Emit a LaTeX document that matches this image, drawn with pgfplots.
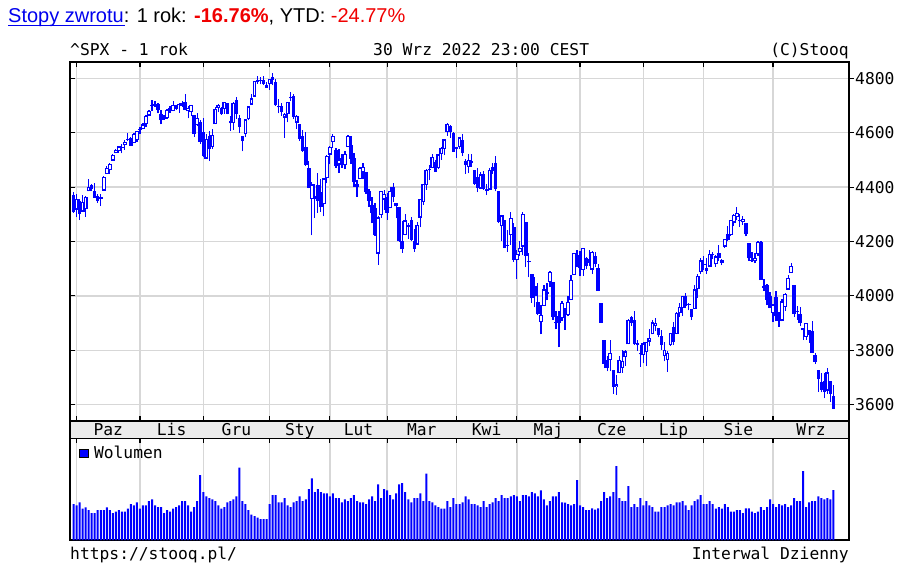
\documentclass[border=0pt]{standalone}
\usepackage{pgfplots}
\pgfplotsset{compat=1.18}
\usepackage{pgfplotstable}
\usepackage{fontspec}
\setmainfont{Liberation Sans}
\newfontfamily\monofont{DejaVu Sans Mono}
\newcommand\mf{\monofont\fontsize{16.3}{19}\selectfont}
\definecolor{gridgray}{RGB}{215,215,215}
\definecolor{stripgray}{RGB}{236,236,236}
\definecolor{linkblue}{RGB}{0,0,238}
\definecolor{cblue}{RGB}{0,0,255}
\definecolor{hred}{RGB}{240,0,0}

% i = trading day index (0 = 1 Oct 2021), O H L C = open high low close, V = volume (relative)
\pgfplotstableread{
i O H L C V
-1 4370.7 4382.6 4306.2 4307.5 36
0 4317.2 4375.2 4288.5 4357.0 34.7
1 4348.8 4355.5 4278.9 4300.5 37.7
2 4309.9 4369.2 4309.9 4345.7 31.3
3 4319.6 4365.6 4290.5 4363.6 32.7
4 4384.0 4429.0 4384.0 4399.8 30
5 4406.5 4412.0 4386.2 4391.3 27
6 4385.4 4415.9 4360.6 4361.2 27
7 4368.3 4374.9 4342.1 4350.7 30
8 4358.0 4372.9 4329.9 4363.8 30
9 4386.8 4439.7 4386.8 4438.3 30
10 4447.7 4475.8 4447.7 4471.4 32.7
11 4463.7 4488.8 4447.5 4486.5 30
12 4497.3 4520.4 4496.4 4519.6 27
13 4524.4 4540.9 4524.4 4536.2 28.3
14 4532.2 4551.4 4526.9 4549.8 30
15 4546.1 4559.7 4524.0 4544.9 28.3
16 4553.7 4572.6 4537.4 4566.5 28.3
17 4578.7 4598.5 4569.2 4574.8 31.3
18 4580.2 4584.6 4551.7 4551.7 36
19 4562.8 4597.6 4562.8 4596.4 34.7
20 4572.9 4608.1 4567.6 4605.4 37.7
21 4610.6 4620.3 4595.1 4613.7 31.3
22 4613.3 4635.2 4613.3 4630.7 34.7
23 4630.7 4663.5 4621.2 4660.6 34.7
24 4662.9 4683.0 4662.6 4680.1 39
25 4699.3 4718.5 4681.3 4697.5 40.7
26 4701.5 4714.9 4694.4 4701.7 34.7
27 4707.3 4708.5 4670.9 4685.3 33
28 4670.3 4684.9 4630.9 4646.7 33
29 4659.4 4664.6 4648.3 4649.3 27
30 4655.2 4688.5 4650.8 4682.9 30
31 4689.3 4697.4 4672.9 4682.8 28.3
32 4679.4 4714.9 4679.4 4700.9 31.3
33 4701.5 4701.5 4684.4 4688.7 33
34 4700.7 4708.8 4672.8 4704.5 34.7
35 4708.4 4717.8 4694.2 4698.0 39
36 4712.0 4743.8 4682.2 4682.9 39
37 4678.5 4699.4 4652.7 4690.7 34.7
38 4675.8 4702.9 4659.9 4701.5 28.3
39 4664.6 4664.6 4585.4 4594.6 33
40 4628.8 4672.9 4625.3 4655.3 39
41 4640.2 4646.0 4560.0 4567.0 65
42 4602.8 4652.9 4510.3 4513.0 48
43 4504.7 4595.5 4504.7 4577.1 43.7
44 4589.5 4608.0 4495.1 4538.4 42
45 4548.4 4612.6 4540.5 4591.7 40.7
46 4631.9 4694.0 4631.9 4686.8 39
47 4690.9 4705.1 4674.5 4701.2 34.7
48 4691.0 4695.3 4666.0 4667.5 31.3
49 4687.6 4713.6 4670.2 4712.0 33
50 4710.3 4710.3 4667.6 4669.0 37.7
51 4642.0 4660.5 4606.5 4634.1 39
52 4636.5 4712.6 4611.2 4709.9 40.7
53 4719.1 4731.9 4651.9 4668.7 43.7
54 4652.5 4666.7 4600.2 4620.6 72.3
55 4587.9 4587.9 4531.1 4568.0 39
56 4594.8 4651.1 4583.2 4649.2 36
57 4650.4 4697.7 4645.5 4696.6 30
58 4703.1 4740.7 4703.1 4725.8 25.3
59 4733.0 4791.5 4733.0 4791.2 24
60 4795.5 4807.0 4780.0 4786.4 22.3
61 4788.6 4804.1 4778.1 4793.1 21
62 4794.2 4808.9 4775.3 4778.7 21
63 4775.2 4786.8 4765.8 4766.2 21
64 4778.1 4796.6 4758.2 4796.6 36
65 4804.5 4818.6 4774.3 4793.5 45
66 4787.9 4797.7 4699.4 4700.6 45
67 4693.4 4725.0 4671.3 4696.1 37.7
68 4697.7 4707.9 4662.7 4677.0 37.7
69 4655.3 4673.0 4582.2 4670.3 42
70 4669.1 4714.1 4638.3 4713.1 34.7
71 4728.6 4749.0 4716.0 4726.4 33
72 4733.6 4744.1 4650.3 4659.0 37.7
73 4637.0 4665.1 4614.8 4662.9 39
74 4632.2 4632.2 4568.7 4577.1 43.7
75 4588.0 4611.6 4530.2 4532.8 39
76 4547.4 4602.1 4477.9 4482.7 40.7
77 4471.4 4494.5 4395.3 4397.9 51
78 4356.3 4417.4 4222.6 4410.1 61.7
79 4366.6 4411.0 4287.1 4356.5 48
80 4408.4 4453.2 4304.8 4349.9 51
81 4380.6 4428.7 4309.5 4326.5 48
82 4336.2 4432.7 4292.5 4431.9 46.7
83 4431.8 4516.9 4414.0 4515.6 46.7
84 4519.6 4550.5 4483.5 4546.5 43.7
85 4566.4 4595.3 4544.3 4589.4 46.7
86 4535.4 4542.9 4470.4 4477.4 42
87 4482.8 4539.7 4451.5 4500.5 42
88 4505.8 4521.9 4471.5 4483.9 37.7
89 4480.0 4531.3 4465.4 4521.5 40.7
90 4547.0 4590.0 4547.0 4587.2 39
91 4553.2 4588.9 4484.3 4504.1 42
92 4506.3 4527.0 4401.4 4418.6 45
93 4412.6 4426.2 4364.8 4401.7 39
94 4429.3 4472.8 4429.3 4471.1 37.7
95 4455.8 4489.6 4429.7 4475.0 37.7
96 4456.1 4456.1 4373.8 4380.3 36
97 4384.6 4394.6 4327.2 4348.9 40.7
98 4332.7 4362.1 4267.1 4304.8 43.7
99 4324.9 4341.5 4221.5 4225.5 39
100 4155.8 4294.7 4114.7 4288.7 55.7
101 4298.4 4385.3 4286.8 4384.7 42
102 4354.2 4388.8 4315.1 4373.9 51
103 4363.1 4378.5 4279.5 4306.3 49.7
104 4322.6 4401.5 4322.6 4386.5 45
105 4401.3 4416.8 4345.6 4363.5 40.7
106 4342.1 4342.1 4284.9 4328.9 46.7
107 4327.0 4327.0 4199.9 4201.1 55.7
108 4202.7 4276.9 4157.9 4170.7 57
109 4223.1 4299.4 4223.1 4277.9 48
110 4252.6 4268.3 4209.8 4259.5 40.7
111 4279.5 4291.0 4200.5 4204.3 37.7
112 4202.8 4247.6 4161.7 4173.1 42
113 4188.8 4271.1 4187.9 4262.5 42
114 4288.1 4358.0 4251.9 4357.9 46.7
115 4345.1 4412.7 4335.7 4411.7 39
116 4407.3 4465.4 4390.6 4463.1 66.3
117 4462.4 4481.8 4424.3 4461.2 39
118 4469.1 4522.0 4469.1 4511.6 37.7
119 4493.1 4501.1 4455.8 4456.2 34.7
120 4469.9 4520.6 4465.2 4520.2 33
121 4522.7 4546.0 4501.1 4543.1 31.3
122 4541.1 4575.7 4517.7 4575.5 31.3
123 4602.9 4637.3 4589.7 4631.6 39
124 4624.2 4627.8 4581.3 4602.5 33
125 4599.0 4603.1 4530.4 4530.4 42
126 4540.3 4548.7 4507.6 4545.9 36
127 4547.0 4583.5 4539.2 4582.6 36
128 4572.5 4593.5 4514.2 4525.1 37.7
129 4494.2 4503.9 4450.0 4481.2 43.7
130 4474.7 4521.2 4450.3 4500.2 40.7
131 4494.2 4520.4 4474.6 4488.3 36
132 4462.6 4464.4 4408.4 4412.5 36
133 4437.6 4471.0 4381.3 4397.5 34.7
134 4394.3 4453.9 4392.7 4446.6 33
135 4449.1 4460.5 4390.8 4392.6 39
136 4385.6 4410.3 4370.3 4391.7 33
137 4390.6 4471.0 4390.6 4462.2 36
138 4472.3 4488.3 4448.8 4459.5 37.7
139 4489.2 4512.9 4384.5 4393.7 42
140 4385.8 4385.8 4267.6 4271.8 39
141 4255.3 4299.0 4200.8 4296.1 45
142 4278.1 4278.1 4175.0 4175.2 42
143 4186.5 4240.7 4162.9 4184.0 42
144 4222.6 4308.5 4188.6 4287.5 43.7
145 4253.8 4269.7 4124.3 4131.9 45
146 4130.6 4169.8 4062.5 4155.4 43.7
147 4159.8 4200.1 4147.1 4175.5 39
148 4181.2 4307.7 4148.9 4300.2 45
149 4270.4 4270.4 4106.0 4146.9 45
150 4128.2 4157.7 4067.9 4123.3 43.7
151 4081.3 4081.3 3975.5 3991.2 48
152 4035.2 4068.8 3958.2 4001.1 46.7
153 3978.7 4049.1 3928.8 3935.2 43.7
154 3903.9 3964.8 3858.9 3930.1 49.7
155 3963.9 4038.9 3963.9 4023.9 40.7
156 4013.0 4046.5 3983.8 4008.0 34.7
157 4052.0 4090.7 4033.9 4088.9 39
158 4051.9 4051.9 3911.9 3923.7 43.7
159 3899.0 3945.9 3876.6 3900.8 43.7
160 3927.8 3943.4 3810.3 3901.4 48
161 3919.4 3981.9 3909.0 3973.8 37.7
162 3942.9 3955.7 3875.1 3941.5 37.3
163 3929.6 3999.3 3925.0 3978.7 36
164 3984.6 4075.1 3984.6 4057.8 34.7
165 4077.4 4158.5 4077.4 4158.2 36
166 4151.1 4168.3 4104.9 4132.2 60
167 4149.8 4166.5 4073.9 4101.2 34.7
168 4095.4 4177.5 4074.4 4176.8 33
169 4137.6 4142.7 4098.7 4108.5 30
170 4134.7 4168.8 4109.2 4121.4 30
171 4096.5 4164.9 4080.2 4160.7 31.7
172 4147.1 4160.1 4107.2 4115.8 30.3
173 4101.7 4119.1 4017.2 4017.8 31.7
174 3974.4 3974.4 3900.2 3900.9 39
175 3838.2 3838.2 3734.3 3749.6 48
176 3763.5 3778.2 3722.3 3735.5 42
177 3764.0 3837.6 3722.3 3790.0 43.7
178 3728.2 3728.2 3639.8 3666.8 48
179 3665.9 3707.7 3636.9 3674.8 74
180 3715.3 3779.7 3715.3 3764.8 42
181 3733.9 3801.8 3717.7 3759.9 39
182 3774.7 3802.6 3743.5 3795.7 39
183 3821.8 3913.7 3821.8 3911.7 54
184 3920.8 3927.7 3889.7 3900.1 33
185 3913.0 3945.9 3820.1 3821.6 36
186 3825.1 3836.5 3799.0 3818.8 33
187 3786.0 3818.0 3738.7 3785.4 42
188 3781.0 3829.8 3752.1 3825.3 34.7
189 3792.6 3832.2 3742.1 3831.4 39
190 3832.0 3879.0 3814.6 3845.1 34.7
191 3858.9 3910.6 3858.9 3902.6 33
192 3888.3 3918.5 3869.3 3899.4 28.3
193 3880.9 3880.9 3847.2 3854.4 28.3
194 3851.9 3873.4 3802.4 3818.8 33
195 3779.7 3829.4 3759.1 3801.8 33
196 3763.9 3796.4 3721.6 3790.4 34.7
197 3818.0 3863.6 3817.2 3863.2 36
198 3883.8 3902.4 3818.6 3830.9 34.7
199 3860.7 3939.8 3860.7 3936.7 37.7
200 3935.3 3974.1 3922.0 3959.9 37.7
201 3955.5 3999.3 3927.6 3999.0 39
202 3998.4 4012.4 3955.8 3961.6 34.7
203 3965.7 3975.3 3946.3 3966.8 30
204 3953.2 3953.2 3910.7 3921.1 34.7
205 3951.4 4039.6 3951.4 4023.6 39
206 4026.1 4078.9 3993.0 4072.4 40.7
207 4087.3 4140.2 4079.2 4130.3 45
208 4112.4 4144.9 4096.0 4118.6 36
209 4104.2 4140.5 4079.8 4091.2 36
210 4108.0 4167.7 4108.0 4155.2 39
211 4154.9 4161.3 4135.4 4151.9 36
212 4115.9 4151.6 4107.3 4145.2 31.3
213 4155.9 4186.6 4129.0 4140.1 33
214 4133.1 4137.3 4112.1 4122.5 31.3
215 4181.0 4211.0 4177.3 4210.2 36
216 4227.4 4257.9 4201.4 4207.3 33
217 4225.0 4280.5 4219.8 4280.2 28.3
218 4269.4 4301.8 4256.9 4297.1 28.3
219 4290.5 4325.3 4277.8 4305.2 30
220 4280.4 4302.2 4253.1 4274.0 30
221 4273.1 4292.5 4262.0 4283.7 27
222 4266.3 4266.3 4218.7 4228.5 31.7
223 4195.1 4195.1 4129.9 4138.0 31.7
224 4133.1 4159.8 4124.0 4128.7 28.3
225 4126.6 4156.6 4120.0 4140.8 27
226 4153.3 4200.5 4147.6 4199.1 28.3
227 4198.7 4203.0 4057.7 4057.7 33
228 4034.6 4063.0 4017.4 4030.6 30
229 4041.3 4045.0 3965.2 3986.2 33
230 4000.7 4015.4 3954.5 3955.0 40.7
231 3936.7 3970.2 3903.7 3966.9 36
232 3994.7 4018.4 3906.2 3924.3 33
233 3930.9 3942.6 3886.8 3908.2 36
234 3909.4 3987.9 3906.0 3979.9 34.7
235 3959.9 4010.5 3944.8 4006.2 36
236 4022.9 4076.8 4022.9 4067.4 33
237 4083.7 4119.3 4083.7 4110.4 34.7
238 4041.3 4041.3 3921.7 3932.7 42
239 3940.7 3961.9 3912.7 3946.0 39
240 3932.4 3959.1 3888.3 3901.4 39
241 3881.0 3881.0 3837.1 3873.3 69
242 3849.9 3900.5 3838.5 3899.9 33
243 3875.2 3876.0 3827.5 3855.9 37.7
244 3871.4 3907.1 3789.5 3789.9 39
245 3782.4 3790.2 3749.4 3758.0 39
246 3727.1 3727.1 3647.5 3693.2 43.7
247 3682.7 3715.7 3644.8 3655.0 42
248 3686.4 3717.5 3623.3 3647.3 40.7
249 3651.9 3736.7 3640.6 3719.0 42
250 3687.0 3687.0 3610.4 3640.5 40.7
251 3633.5 3671.4 3584.1 3585.6 50
}\spx

\pgfplotsset{
  base/.style={scale only axis, width=779pt, xmin=-2.2, xmax=256.2,
    anchor=south west,
    axis line style={line width=1.5pt},
    tick style={black, line width=1.2pt},
    major tick length=5pt, tick align=inside,
    major grid style={gridgray, line width=1.5pt}},
  months/.style={xtick={0,21,42,64,84,103,126,146,167,188,208,231}, xticklabels={}},
  cand/.style={draw=none, mark=none, forget plot},
}

\begin{document}
\begin{tikzpicture}[x=1pt,y=1pt]
\useasboundingbox (0,0) rectangle (901,565);

% header
\node[anchor=base west, inner sep=0pt, font=\fontsize{20}{24}\selectfont] at (8,542.5)
  {\textcolor{linkblue}{Stopy zwrotu}: 1 rok: \textcolor{hred}{\bfseries -16.76\%}, YTD: \textcolor{hred}{-24.77\%}};
\draw[linkblue, line width=1.3pt] (8,539.3) -- (125,539.3);

\node[anchor=base west, inner sep=0pt, font=\mf] at (70,509) {\textasciicircum SPX - 1 rok};
\node[anchor=base west, inner sep=0pt, font=\mf] at (373,509) {30 Wrz 2022 23:00 CEST};
\node[anchor=base east, inner sep=0pt, font=\mf] at (849,509) {(C)Stooq};

% main price panel
\begin{axis}[base, months, at={(70pt,144pt)}, height=359pt,
  ymin=3540, ymax=4860,
  ytick={3600,3800,4000,4200,4400,4600,4800}, yticklabels={},
  xtick pos=both, ytick pos=left,
  xmajorgrids=true, ymajorgrids=true]
  % wicks
  \addplot[cand, error bars/.cd, y dir=plus, y explicit, error mark=none,
    error bar style={draw=cblue, line width=1.2pt}]
    table[x=i, y=L, y error plus expr={\thisrow{H}-\thisrow{L}}] {\spx};
  % falling candles (filled)
  \addplot[cand, restrict y to domain=0:10000, error bars/.cd, y dir=plus, y explicit, error mark=none,
    error bar style={draw=cblue, line width=3.5pt}]
    table[x=i, y expr={(\thisrow{C}<\thisrow{O}) ? \thisrow{C} : -1000},
      y error plus expr={max(\thisrow{O}-\thisrow{C},3.7)}] {\spx};
  % rising candles (hollow): outline
  \addplot[cand, restrict y to domain=0:10000, error bars/.cd, y dir=plus, y explicit, error mark=none,
    error bar style={draw=cblue, line width=3.9pt}]
    table[x=i, y expr={(\thisrow{C}<\thisrow{O}) ? -1000 : \thisrow{O}},
      y error plus expr={max(\thisrow{C}-\thisrow{O},3.7)}] {\spx};
  % rising candles (hollow): white inside
  \addplot[cand, restrict y to domain=0:10000, error bars/.cd, y dir=plus, y explicit, error mark=none,
    error bar style={draw=white, line width=1.5pt}]
    table[x=i, y expr={(\thisrow{C}<\thisrow{O}) ? -1000 : \thisrow{O}+4.4},
      y error plus expr={max(\thisrow{C}-\thisrow{O}-8.8,0)}] {\spx};
\end{axis}

% right-hand price labels
\begin{axis}[base, at={(70pt,144pt)}, height=359pt,
  ymin=3540, ymax=4860, xtick=\empty,
  ytick={3600,3800,4000,4200,4400,4600,4800},
  ytick pos=right, yticklabel pos=right, tick align=outside,
  axis line style={draw=none},
  yticklabel style={font=\mf, inner sep=0pt, anchor=west, xshift=1pt},
  /pgf/number format/1000 sep={}, /pgf/number format/assume math mode=true]
\end{axis}

% month strip
\begin{axis}[base, at={(70pt,126.7pt)}, height=17.3pt, ymin=0, ymax=1, ytick=\empty,
  xtick={10.5,31.5,53,74,93.5,114.5,136,156.5,177.5,198,219.5,243.6},
  xticklabels={Paz,Lis,Gru,Sty,Lut,Mar,Kwi,Maj,Cze,Lip,Sie,Wrz},
  major tick length=0pt,
  xticklabel style={font=\mf, anchor=base, yshift=3.3pt},
  axis background/.style={fill=stripgray}]
\end{axis}

% volume panel
\begin{axis}[base, months, at={(70pt,25pt)}, height=101.7pt,
  ymin=0, ymax=101.7, ytick=\empty, xtick pos=top, xmajorgrids=true,
  legend style={at={(0,1)}, anchor=north west, draw=none, fill=none, font=\mf,
    inner sep=0pt, xshift=9pt, yshift=-6pt,
    /tikz/every odd column/.append style={column sep=3.5pt}},
  legend image code/.code={\draw[fill=cblue, draw=black, line width=0.8pt] (0pt,-4pt) rectangle (8.5pt,4pt);}]
  \addplot[ybar, bar width=2pt, fill=cblue, draw=none] table[x=i, y=V] {\spx};
  \addlegendentry{Wolumen}
\end{axis}

% footer
\node[anchor=base west, inner sep=0pt, font=\mf] at (70,6) {https://stooq.pl/};
\node[anchor=base east, inner sep=0pt, font=\mf] at (849,6) {Interwal Dzienny};
\end{tikzpicture}
\end{document}
